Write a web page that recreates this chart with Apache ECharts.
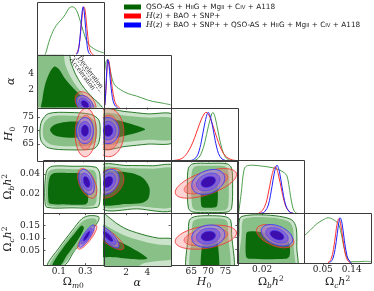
<!DOCTYPE html>
<html><head><meta charset="utf-8">
<script src="https://cdn.jsdelivr.net/npm/echarts@6/dist/echarts.min.js"></script>
<style>html,body{margin:0;padding:0;background:#fff}#c{width:374px;height:291px}</style>
</head><body><div id="c"></div>
<script>
// ---------------- DATA ----------------
// parameter order: Om0, alpha, H0, Obh2, Och2
const axisMin = [-0.02, -0.1, 59, 0, -0.008];
const axisMax = [0.44, 6.2, 78.5, 0.054, 0.2];
const xTicks = [[0.1, 0.3], [2, 4], [65, 70, 75], [0.02], [0.05, 0.14]];
const xTickLabels = [['0.1', '0.3'], ['2', '4'], ['65', '70', '75'], ['0.02'], ['0.05', '0.14']];
const yTicks = [[], [2, 4], [65, 70, 75], [0.02, 0.04], [0.05, 0.10, 0.15]];
const yTickLabels = [[], ['2', '4'], ['65', '70', '75'], ['0.02', '0.04'], ['0.05', '0.10', '0.15']];
const axisTitles = ['{g|Ω}{si|m}{s|0}', '{i|α}', '{i|H}{s|0}', '{g|Ω}{si|b}{i|h}{sup|2}', '{g|Ω}{si|c}{i|h}{sup|2}'];

const seriesNames = [
  'QSO-AS + HIIG + MgII + CIV + A118',
  'H(z) + BAO + SNP+',
  'H(z) + BAO + SNP+ + QSO-AS + HIIG + MgII + CIV + A118'
];
const legendRich = [
  'QSO-AS + H{sc|II}G + Mg{sc|II} + C{sc|IV} + A118',
  '{i|H}({i|z}) + BAO + SNP+',
  '{i|H}({i|z}) + BAO + SNP+ + QSO-AS + H{sc|II}G + Mg{sc|II} + C{sc|IV} + A118'
];

// Gaussian summaries for red / blue 2D contours
const blueMean = [0.31, 0.3, 70.0, 0.032, 0.108];
const blueSigma = [0.017, 0.3, 1.4, 0.0037, 0.013];
const redMean = [0.315, 0.35, 69.3, 0.0305, 0.104];
const redSigma = [0.021, 0.42, 2.6, 0.0044, 0.014];
const blueCorr = [[0,1,-0.4],[0,2,0],[0,3,-0.4],[0,4,0.85],[1,2,0],[1,3,0.3],[1,4,-0.8],[2,3,0.3],[2,4,0.15],[3,4,-0.4]];
const redCorr = [[0,1,-0.4],[0,2,0.05],[0,3,-0.5],[0,4,0.85],[1,2,0],[1,3,0.3],[1,4,-0.8],[2,3,0.6],[2,4,0.35],[3,4,-0.5]];
const contourRadii = [3.44, 2.45, 1.52];

// green contours (outer, mid, inner) [x, y] in data units
const greenAlphaOm = [
  [[-0.03,-0.5],[-0.03,6.6],[0.19,6.6],[0.215,5.2],[0.245,3.9],[0.285,2.7],[0.33,1.7],[0.375,0.9],[0.415,0.25],[0.44,-0.5]],
  [[-0.03,-0.5],[-0.03,6.6],[0.15,6.6],[0.175,5.0],[0.21,3.6],[0.255,2.4],[0.305,1.4],[0.355,0.6],[0.395,-0.5]],
  [[0.015,-0.5],[0.018,1.0],[0.035,2.6],[0.065,4.0],[0.1,4.8],[0.13,4.5],[0.175,3.3],[0.23,2.2],[0.29,1.2],[0.34,0.4],[0.36,-0.5]]
];
const greenH0Om = [
  [[0.0,69.5],[0.012,73.5],[0.06,76.3],[0.2,76.7],[0.35,76],[0.405,74],[0.415,70],[0.405,65.5],[0.37,63.3],[0.2,62.9],[0.06,63.6],[0.01,66]],
  [[0.02,69.5],[0.03,72.8],[0.08,75.2],[0.2,75.5],[0.34,74.9],[0.385,73],[0.395,70],[0.385,66.3],[0.35,64.6],[0.2,64.2],[0.08,64.8],[0.03,66.8]],
  [[0.07,70.3],[0.1,72.2],[0.18,73.2],[0.3,73.1],[0.35,71.5],[0.35,68.8],[0.3,67.6],[0.18,67.5],[0.1,68.3]]
];
const greenObOm = [
  [[-0.005,0.03],[0.01,0.044],[0.05,0.048],[0.2,0.048],[0.38,0.047],[0.41,0.04],[0.41,0.012],[0.39,0.006],[0.2,0.0055],[0.01,0.006],[-0.005,0.012]],
  [[0.005,0.03],[0.02,0.042],[0.06,0.045],[0.2,0.045],[0.36,0.044],[0.385,0.038],[0.385,0.013],[0.36,0.0075],[0.2,0.007],[0.02,0.0075],[0.005,0.013]],
  [[0.02,0.028],[0.035,0.038],[0.07,0.041],[0.2,0.041],[0.3,0.04],[0.32,0.03],[0.32,0.012],[0.3,0.009],[0.15,0.009],[0.03,0.01],[0.02,0.015]]
];
const greenOcOm = [
  [[0.014,-0.01],[0.1,0.06],[0.2,0.13],[0.275,0.178],[0.33,0.19],[0.4,0.186],[0.4,0.17],[0.32,0.11],[0.22,0.05],[0.14,-0.01]],
  [[0.03,-0.01],[0.11,0.06],[0.2,0.122],[0.28,0.168],[0.34,0.18],[0.385,0.175],[0.38,0.16],[0.31,0.105],[0.21,0.045],[0.12,-0.01]],
  [[0.05,-0.01],[0.13,0.06],[0.22,0.12],[0.27,0.15],[0.29,0.14],[0.24,0.09],[0.16,0.03],[0.11,-0.01]]
];
const greenH0Alpha = [
  [[-0.3,77.5],[2,77],[4,76.2],[6.5,75.8],[6.5,65.8],[4,65],[2,64.2],[-0.3,63.5]],
  [[-0.3,76],[2,75.5],[4,74.8],[6.5,74.3],[6.5,67],[4,66.6],[2,65.8],[-0.3,65]],
  [[-0.3,74.5],[1,74],[2,73],[3,71.8],[3.8,70.5],[3,69.2],[2,68.2],[1,67.3],[-0.3,66.5]]
];
const greenObAlpha = [
  [[-0.3,0.0485],[2,0.0488],[4.5,0.0485],[6.5,0.048],[6.5,0.004],[3,0.0045],[-0.3,0.005]],
  [[-0.3,0.0455],[2,0.046],[4.5,0.0455],[6.5,0.045],[6.5,0.0075],[3,0.007],[-0.3,0.0075]],
  [[-0.3,0.042],[1,0.043],[2.5,0.041],[3.6,0.036],[4.2,0.026],[4.1,0.015],[3.5,0.0105],[2,0.0095],[-0.3,0.0095]]
];
const greenOcAlpha = [
  [[-0.3,0.2],[0.5,0.18],[1,0.163],[2,0.138],[3,0.123],[4,0.111],[5,0.102],[6.5,0.093],[6.5,-0.05],[-0.3,-0.05]],
  [[-0.3,0.155],[0.5,0.142],[1,0.13],[2,0.11],[3,0.096],[4,0.085],[5,0.077],[6.5,0.068],[6.5,0.022],[5,0.012],[3.5,0.0],[2,-0.05],[-0.3,-0.05]],
  [[-0.3,0.12],[0.5,0.105],[1,0.095],[2,0.075],[3,0.052],[3.7,0.033],[4.0,0.022],[3.5,0.018],[2.5,0.02],[1.5,0.024],[0.5,0.027],[-0.3,0.03]]
];
const greenObH0 = [
  [[63.9,0.03],[64.2,0.046],[65.5,0.0505],[70,0.051],[75.5,0.0505],[76.8,0.046],[77.1,0.03],[76.8,0.005],[75.5,0.0012],[70,0.0008],[65.5,0.0012],[64.2,0.005]],
  [[65,0.03],[65.3,0.044],[66.3,0.048],[70,0.0485],[74.8,0.048],[75.8,0.044],[76,0.03],[75.8,0.007],[74.8,0.003],[70,0.0028],[66.3,0.003],[65.3,0.007]],
  [[67.8,0.02],[68,0.033],[70,0.035],[72.5,0.033],[72.8,0.02],[72.6,0.008],[72,0.006],[70,0.0055],[68.3,0.006],[67.9,0.009]]
];
const greenOcH0 = [
  [[64.2,0.12],[64.5,0.172],[66,0.186],[70,0.19],[75,0.186],[76.5,0.172],[76.8,0.12],[76.8,-0.05],[64.2,-0.05]],
  [[65.2,0.12],[65.5,0.165],[66.8,0.177],[70,0.18],[74.5,0.177],[75.6,0.165],[75.8,0.12],[75.8,-0.05],[65.2,-0.05]],
  [[68.2,0.09],[68.5,0.1],[70,0.103],[72.5,0.1],[72.8,0.09],[72.8,-0.05],[68.2,-0.05]]
];
const greenOcOb = [
  [[0.0012,0.12],[0.002,0.18],[0.008,0.191],[0.02,0.193],[0.034,0.187],[0.044,0.172],[0.0475,0.14],[0.048,0.06],[0.047,-0.05],[0.0012,-0.05]],
  [[0.0035,0.12],[0.0045,0.172],[0.01,0.182],[0.02,0.184],[0.033,0.178],[0.042,0.163],[0.045,0.135],[0.0455,0.06],[0.045,-0.05],[0.0035,-0.05]],
  [[0.007,0.11],[0.008,0.122],[0.015,0.124],[0.025,0.115],[0.035,0.1],[0.041,0.085],[0.0425,0.05],[0.042,0.02],[0.039,0.01],[0.01,0.01],[0.007,0.02]]
];

// 1D marginals [value, relative density]
const greenOm1D = [[0.035,0],[0.045,0.08],[0.06,0.25],[0.08,0.42],[0.10,0.55],[0.125,0.66],[0.15,0.74],[0.175,0.84],[0.2,0.97],[0.22,1.0],[0.24,0.98],[0.26,0.87],[0.28,0.68],[0.30,0.48],[0.32,0.3],[0.34,0.2],[0.37,0.13],[0.40,0.08],[0.44,0.04]];
const blueOm1D = [[0.25,0.01],[0.26,0.04],[0.27,0.18],[0.28,0.49],[0.29,0.87],[0.298,1.0],[0.305,0.9],[0.315,0.55],[0.325,0.2],[0.335,0.05],[0.35,0.0]];
const redOm1D = [[0.25,0.02],[0.26,0.07],[0.27,0.2],[0.28,0.45],[0.29,0.78],[0.302,1.0],[0.31,0.95],[0.32,0.68],[0.33,0.38],[0.34,0.15],[0.355,0.03],[0.37,0]];
const greenAl1D = [[0,0.78],[0.1,0.95],[0.25,1.0],[0.4,0.9],[0.6,0.68],[0.8,0.52],[1.1,0.43],[1.5,0.37],[2,0.31],[2.5,0.27],[3,0.24],[3.5,0.2],[4,0.16],[4.5,0.13],[5,0.11],[5.5,0.09],[6.2,0.06]];
const blueAl1D = [[0,0.05],[0.1,0.4],[0.2,0.85],[0.28,1.0],[0.38,0.9],[0.5,0.6],[0.65,0.3],[0.8,0.12],[1.0,0.03],[1.2,0]];
const redAl1D = [[0,0.05],[0.1,0.35],[0.2,0.78],[0.3,1.0],[0.4,0.95],[0.55,0.68],[0.7,0.4],[0.9,0.16],[1.1,0.05],[1.4,0]];
const greenH01D = [[66,0],[67,0.04],[68,0.15],[69,0.38],[70,0.7],[71,0.97],[71.3,1.0],[72,0.9],[73,0.55],[74,0.24],[75,0.07],[76,0.01],[77,0]];
const blueH01D = [[65,0],[66,0.03],[67,0.13],[68,0.4],[69,0.78],[70,1.0],[71,0.8],[72,0.42],[73,0.14],[74,0.03],[75,0]];
const redH01D = [[60,0],[61,0.01],[62,0.03],[63,0.08],[64,0.17],[65,0.3],[66,0.47],[67,0.67],[68,0.86],[69,0.99],[69.3,1.0],[70,0.97],[71,0.8],[72,0.58],[73,0.37],[74,0.2],[75,0.09],[76,0.04],[77,0.01],[78,0]];
const greenOb1D = [[0.001,0],[0.003,0.4],[0.0055,0.92],[0.008,0.99],[0.012,1.0],[0.02,0.98],[0.028,0.95],[0.034,0.9],[0.038,0.84],[0.040,0.78],[0.0415,0.6],[0.043,0.35],[0.0445,0.15],[0.046,0.04],[0.048,0]];
const blueOb1D = [[0.019,0],[0.022,0.03],[0.025,0.17],[0.028,0.56],[0.030,0.86],[0.032,1.0],[0.034,0.86],[0.036,0.56],[0.039,0.17],[0.042,0.03],[0.045,0]];
const redOb1D = [[0.017,0],[0.02,0.05],[0.023,0.2],[0.026,0.55],[0.028,0.8],[0.0305,0.97],[0.033,0.82],[0.036,0.45],[0.039,0.15],[0.042,0.03],[0.045,0]];
const greenOc1D = [[-0.008,0.6],[0.01,0.72],[0.032,0.87],[0.05,0.95],[0.067,1.0],[0.08,0.97],[0.098,0.87],[0.105,0.72],[0.11,0.56],[0.119,0.25],[0.129,0.08],[0.14,0.03],[0.16,0.03],[0.18,0.04],[0.2,0.03]];
const blueOc1D = [[0.07,0],[0.08,0.08],[0.088,0.3],[0.095,0.65],[0.1,0.9],[0.104,1.0],[0.11,0.87],[0.117,0.5],[0.125,0.17],[0.133,0.04],[0.14,0]];
const redOc1D = [[0.065,0],[0.075,0.08],[0.083,0.3],[0.09,0.65],[0.095,0.88],[0.1,0.98],[0.105,0.88],[0.112,0.55],[0.12,0.2],[0.128,0.05],[0.138,0]];

// acceleration / deceleration transition (Om0, alpha)
const transitionLine = [[0.22, 6.44], [0.419, 1.62]];
const transitionLabels = ['Deceleration', 'Acceleration'];
const transitionLabelPos = [[0.347, 4.12], [0.292, 3.94]];

// ---------------- BUILD ----------------
const L0 = 37, CW = 66.8, T0 = 2, RH = 52.8;
const serif = 'DejaVu Serif';
const greenFill = ['#cae3ca', '#88c088', '#0b6b0b'];
const greenEdge = '#2a7a2a';
const redFill = ['rgba(255,120,120,0.32)', 'rgba(255,90,90,0.42)', 'rgba(255,60,60,0.55)'];
const redEdge = 'rgba(240,50,50,0.95)';
const blueFill = ['rgba(150,140,240,0.6)', 'rgba(120,90,220,0.72)', 'rgba(58,8,172,0.95)'];
const blueEdge = '#3b3bff';

const panels = [];
for (let i = 0; i < 5; i++) for (let j = 0; j <= i; j++) panels.push({ i, j });
const gIdx = (i, j) => panels.findIndex(p => p.i === i && p.j === j);

const fmt = (vals, labs) => v => { const k = vals.findIndex(t => Math.abs(t - v) < 1e-9); return k >= 0 ? labs[k] : ''; };
const titleRich = {
  g: { fontFamily: serif, fontSize: 11, color: '#222' },
  i: { fontFamily: serif, fontSize: 11, fontStyle: 'italic', color: '#222' },
  s: { fontFamily: serif, fontSize: 7.5, color: '#222', padding: [7, 0, 0, 0] },
  si: { fontFamily: serif, fontSize: 7.5, fontStyle: 'italic', color: '#222', padding: [7, 0, 0, 0] },
  sup: { fontFamily: serif, fontSize: 7.5, color: '#222', padding: [0, 0, 7, 0] }
};
const labelStyle = { fontFamily: serif, fontSize: 9, color: '#222' };

const grid = panels.map(p => ({ left: L0 + p.j * CW, top: T0 + p.i * RH, width: CW, height: RH, show: false }));
const xAxis = panels.map((p, g) => ({
  gridIndex: g, type: 'value', min: axisMin[p.j], max: axisMax[p.j],
  axisLine: { show: false }, splitLine: { show: false },
  axisTick: { show: true, inside: false, length: 2, customValues: xTicks[p.j], lineStyle: { color: '#333', width: 0.8 } },
  axisLabel: Object.assign({ show: p.i === 4, customValues: xTicks[p.j], formatter: fmt(xTicks[p.j], xTickLabels[p.j]), margin: 2 }, labelStyle),
  name: p.i === 4 ? axisTitles[p.j] : '', nameLocation: 'middle', nameGap: 9,
  nameTextStyle: { rich: titleRich }
}));
const yAxis = panels.map((p, g) => {
  if (p.i === p.j) return { gridIndex: g, type: 'value', min: 0, max: 1.1, show: false };
  return {
    gridIndex: g, type: 'value', min: axisMin[p.i], max: axisMax[p.i],
    axisLine: { show: false }, splitLine: { show: false },
    axisTick: { show: true, inside: false, length: 2, customValues: yTicks[p.i], lineStyle: { color: '#333', width: 0.8 } },
    axisLabel: Object.assign({ show: p.j === 0, customValues: yTicks[p.i], formatter: fmt(yTicks[p.i], yTickLabels[p.i]), margin: 3 }, labelStyle),
    name: p.j === 0 ? axisTitles[p.i] : '', nameLocation: 'middle', nameGap: 20, nameRotate: 90,
    nameTextStyle: { rich: titleRich }
  };
});

const series = [];
const greenPanels = [
  [1, 0, greenAlphaOm], [2, 0, greenH0Om], [3, 0, greenObOm], [4, 0, greenOcOm],
  [2, 1, greenH0Alpha], [3, 1, greenObAlpha], [4, 1, greenOcAlpha],
  [3, 2, greenObH0], [4, 2, greenOcH0], [4, 3, greenOcOb]
];
greenPanels.forEach(([i, j, levels]) => {
  const g = gIdx(i, j);
  series.push({
    type: 'custom', name: seriesNames[0], xAxisIndex: g, yAxisIndex: g, clip: true, silent: true,
    itemStyle: { color: '#006400' },
    data: levels.map((lv, k) => [lv[0][0], lv[0][1], k]),
    renderItem: (params, api) => {
      const k = params.dataIndex;
      return { type: 'polygon', shape: { points: levels[k].map(pt => api.coord(pt)), smooth: 0.3 },
        style: { fill: greenFill[k], stroke: k === 0 ? greenEdge : 'none', lineWidth: 1 } };
    }
  });
});

function corrOf(list, a, b) {
  const e = list.find(c => (c[0] === a && c[1] === b) || (c[0] === b && c[1] === a));
  return e ? e[2] : 0;
}
function ellipseSeries(name, color, mean, sigma, corr, fills, edge) {
  panels.forEach((p, g) => {
    if (p.i === p.j) return;
    const xj = p.j, yi = p.i;
    const rho = corrOf(corr, xj, yi);
    series.push({
      type: 'custom', name, xAxisIndex: g, yAxisIndex: g, clip: true, silent: true,
      itemStyle: { color },
      data: contourRadii.map((r, k) => [mean[xj], mean[yi], k]),
      renderItem: (params, api) => {
        const k = params.dataIndex, r = contourRadii[k];
        const q = Math.sqrt(1 - rho * rho), pts = [];
        for (let t = 0; t < 72; t++) {
          const a = t / 72 * 2 * Math.PI, c = Math.cos(a), s = Math.sin(a);
          pts.push(api.coord([mean[xj] + r * sigma[xj] * c, mean[yi] + r * sigma[yi] * (rho * c + q * s)]));
        }
        return { type: 'polygon', shape: { points: pts },
          style: { fill: fills[k], stroke: edge, lineWidth: k === 0 ? 0.9 : 0.6, opacity: 1 } };
      }
    });
  });
}
ellipseSeries(seriesNames[1], '#ff0000', redMean, redSigma, redCorr, redFill, redEdge);
ellipseSeries(seriesNames[2], '#0000ff', blueMean, blueSigma, blueCorr, blueFill, blueEdge);

// 1D marginals
const oneD = [
  [greenOm1D, redOm1D, blueOm1D], [greenAl1D, redAl1D, blueAl1D], [greenH01D, redH01D, blueH01D],
  [greenOb1D, redOb1D, blueOb1D], [greenOc1D, redOc1D, blueOc1D]
];
const lineColors = ['#4f9f4f', '#ff3030', '#2020ff'];
oneD.forEach((set, d) => {
  const g = gIdx(d, d);
  set.forEach((arr, s) => series.push({
    type: 'line', xAxisIndex: g, yAxisIndex: g, data: arr, smooth: 0.35, symbol: 'none', silent: true,
    clip: true, lineStyle: { color: lineColors[s], width: 1 }, z: 3
  }));
});

// transition line & labels
const gT = gIdx(1, 0);
series.push({
  type: 'line', xAxisIndex: gT, yAxisIndex: gT, data: transitionLine, symbol: 'none', silent: true, clip: true, z: 4,
  lineStyle: { color: '#222', width: 0.7, type: [2, 1.5] }
});
series.push({
  type: 'custom', xAxisIndex: gT, yAxisIndex: gT, clip: true, silent: true, z: 5,
  data: transitionLabelPos,
  renderItem: (params, api) => {
    const pt = api.coord(transitionLabelPos[params.dataIndex]);
    return { type: 'text', x: pt[0], y: pt[1], rotation: -0.93,
      style: { text: transitionLabels[params.dataIndex], fill: '#222', fontSize: 7.5, fontFamily: 'Liberation Serif', align: 'center', verticalAlign: 'middle' } };
  }
});

// panel frames
panels.forEach((p, g) => series.push({
  type: 'custom', xAxisIndex: g, yAxisIndex: g, clip: false, silent: true, z: 20,
  data: [[axisMin[p.j], 0]],
  renderItem: (params) => {
    const cs = params.coordSys;
    return { type: 'rect', shape: { x: Math.round(cs.x) + 0.5, y: Math.round(cs.y) + 0.5, width: Math.round(cs.width), height: Math.round(cs.height) },
      style: { fill: 'none', stroke: '#3a3a3a', lineWidth: 1 } };
  }
}));

const legendColors = ['#006400', '#ff0000', '#0000ff'];
const option = {
  animation: false,
  backgroundColor: '#fff',
  grid, xAxis, yAxis, series,
  legend: {
    orient: 'vertical', left: 124, top: 2.5, padding: 0, itemWidth: 17, itemHeight: 5, itemGap: 0, selectedMode: false,
    data: seriesNames.map((n, k) => ({ name: n, icon: 'rect', itemStyle: { color: legendColors[k] } })),
    formatter: n => legendRich[seriesNames.indexOf(n)],
    textStyle: {
      fontFamily: 'DejaVu Sans', fontSize: 7.3, color: '#222', lineHeight: 9,
      rich: {
        sc: { fontFamily: 'DejaVu Sans', fontSize: 5.4, color: '#222', padding: [1.2, 0, 0, 0] },
        i: { fontFamily: serif, fontSize: 7.8, fontStyle: 'italic', color: '#222' }
      }
    }
  }
};
const chart = echarts.init(document.getElementById('c'), null, { renderer: 'canvas' });
chart.setOption(option);
</script>
</body></html>
